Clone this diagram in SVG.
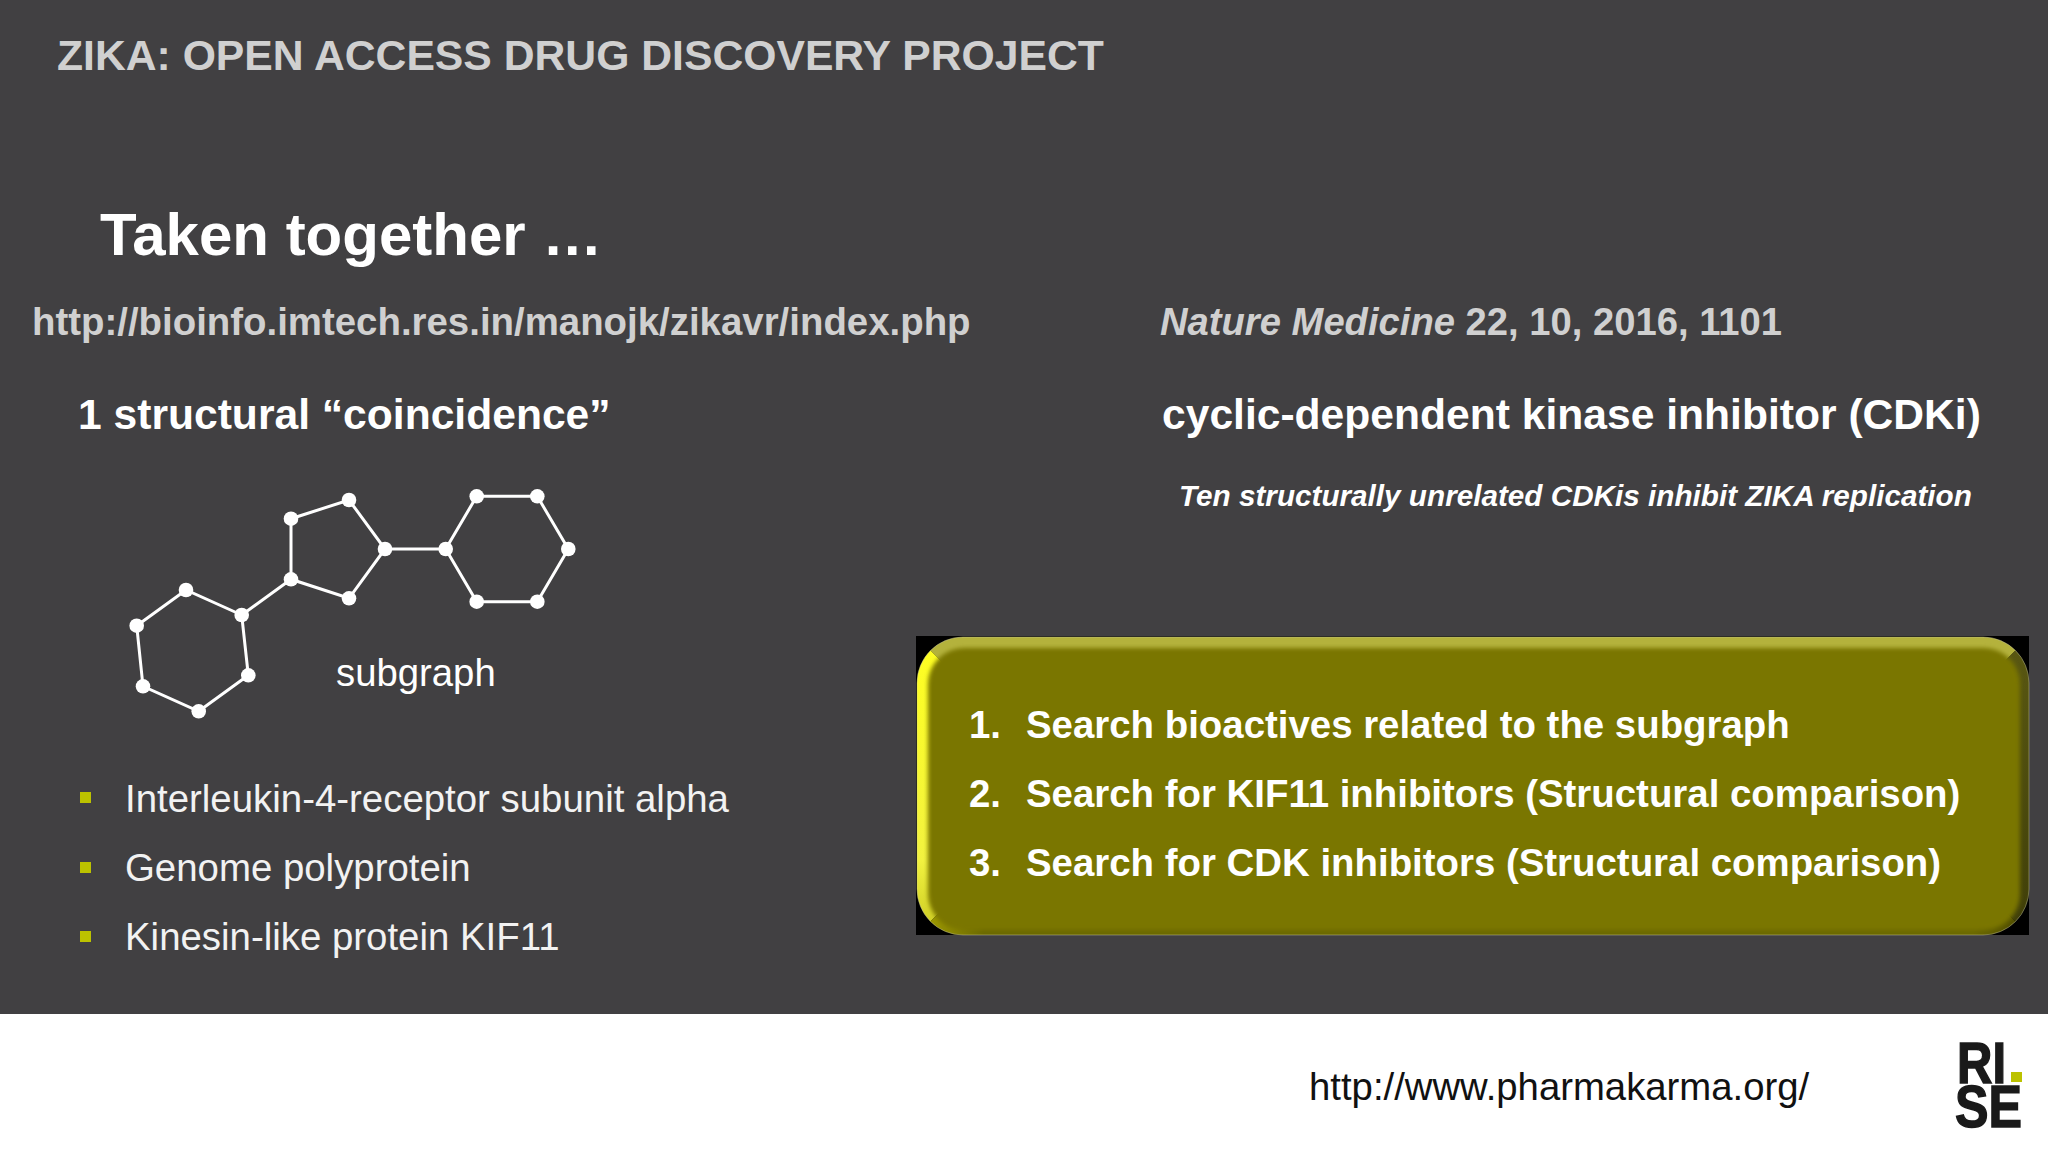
<svg xmlns="http://www.w3.org/2000/svg" width="2048" height="1152" viewBox="0 0 2048 1152">
<defs>
<style>
text{font-family:"Liberation Sans",Arial,sans-serif;fill:#fff}
.b{font-weight:700}
.gray{fill:#d0d0d0;font-weight:700}
.item{font-size:38.4px;fill:#f2f2f2}
.step{font-size:38.4px;font-weight:700}
.bond{stroke:#fff;stroke-width:3;fill:none}
.atom{fill:#fff}
.sq{fill:#bcc200}
</style>
<clipPath id="boxClip"><rect x="917" y="637" width="1112" height="298" rx="46"/></clipPath>
<filter id="soft" x="-5%" y="-5%" width="110%" height="110%"><feGaussianBlur stdDeviation="2.2"/></filter>
<linearGradient id="leftG" gradientUnits="userSpaceOnUse" x1="0" y1="637" x2="0" y2="935"><stop offset="0" stop-color="#ffff20"/><stop offset="0.75" stop-color="#f2f240"/><stop offset="1" stop-color="#c8c820"/></linearGradient>
<linearGradient id="rightG" gradientUnits="userSpaceOnUse" x1="0" y1="637" x2="0" y2="935"><stop offset="0" stop-color="#5a5812"/><stop offset="1" stop-color="#3f3e08"/></linearGradient>
<linearGradient id="botG" gradientUnits="userSpaceOnUse" x1="917" y1="0" x2="2029" y2="0"><stop offset="0" stop-color="#a8a400"/><stop offset="0.06" stop-color="#6c6900"/><stop offset="0.95" stop-color="#6c6900"/><stop offset="1" stop-color="#474500"/></linearGradient>
</defs>
<rect width="2048" height="1152" fill="#414042"/>
<rect y="1014" width="2048" height="138" fill="#fff"/>

<text x="57" y="70" class="gray" font-size="42.7">ZIKA: OPEN ACCESS DRUG DISCOVERY PROJECT</text>
<text x="100" y="255" class="b" font-size="60">Taken together …</text>
<text x="32" y="335" class="gray" font-size="38.4">http://bioinfo.imtech.res.in/manojk/zikavr/index.php</text>
<text x="1160" y="335" class="gray" font-size="38.2"><tspan font-style="italic">Nature Medicine</tspan> 22, 10, 2016, 1101</text>
<text x="78" y="429" class="b" font-size="42.6">1 structural “coincidence”</text>
<text x="1162" y="429" class="b" font-size="42.6">cyclic-dependent kinase inhibitor (CDKi)</text>
<text x="1179" y="506" class="b" font-size="29.7" font-style="italic">Ten structurally unrelated CDKis inhibit ZIKA replication</text>

<g id="molecule">
<g id="bonds">
<path class="bond" d="M241.7 615L186 590L136.7 625.7L143 686.3L198.7 711.3L248.3 675.3Z"/>
<path class="bond" d="M291 579.3L291 518.7L349 500L385 549L349 598.3Z"/>
<path class="bond" d="M445.7 549L476.7 496.3L537.3 496.3L568.3 549L537.3 601.7L476.7 601.7Z"/>
<path class="bond" d="M241.7 615L291 579.3M385 549L445.7 549"/>
</g>
<g id="atoms">
<circle class="atom" cx="241.7" cy="615" r="7.3"/><circle class="atom" cx="186" cy="590" r="7.3"/><circle class="atom" cx="136.7" cy="625.7" r="7.3"/><circle class="atom" cx="143" cy="686.3" r="7.3"/><circle class="atom" cx="198.7" cy="711.3" r="7.3"/><circle class="atom" cx="248.3" cy="675.3" r="7.3"/>
<circle class="atom" cx="291" cy="579.3" r="7.3"/><circle class="atom" cx="291" cy="518.7" r="7.3"/><circle class="atom" cx="349" cy="500" r="7.3"/><circle class="atom" cx="385" cy="549" r="7.3"/><circle class="atom" cx="349" cy="598.3" r="7.3"/>
<circle class="atom" cx="445.7" cy="549" r="7.3"/><circle class="atom" cx="476.7" cy="496.3" r="7.3"/><circle class="atom" cx="537.3" cy="496.3" r="7.3"/><circle class="atom" cx="568.3" cy="549" r="7.3"/><circle class="atom" cx="537.3" cy="601.7" r="7.3"/><circle class="atom" cx="476.7" cy="601.7" r="7.3"/>
</g>
<text id="subgraph" x="336" y="686" font-size="38.3" fill="#f2f2f2">subgraph</text>
</g>

<g id="bullets">
<rect class="sq" x="80" y="792" width="11" height="11"/>
<rect class="sq" x="80" y="862" width="11" height="11"/>
<rect class="sq" x="80" y="931" width="11" height="11"/>
<text class="item" x="125" y="812">Interleukin-4-receptor subunit alpha</text>
<text class="item" x="125" y="881">Genome polyprotein</text>
<text class="item" x="125" y="950">Kinesin-like protein KIF11</text>
</g>

<g id="box">
<rect x="916" y="636" width="1113" height="299" fill="#000"/>
<g clip-path="url(#boxClip)">
<polygon points="917,637 2029,637 1880,786 1066,786" fill="#b4b23c"/>
<polygon points="917,637 1066,786 917,935" fill="url(#leftG)"/>
<polygon points="2029,637 1880,786 2029,935" fill="url(#rightG)"/>
<polygon points="917,935 1066,786 1880,786 2029,935" fill="url(#botG)"/>
<rect x="928" y="648" width="1092" height="282" rx="36" fill="#7a7600" filter="url(#soft)"/>
</g>
<rect x="917" y="637" width="1112" height="298" rx="46" fill="none" stroke="#c8c8a0" stroke-opacity="0.45"/>
<text class="step" x="969" y="738">1.</text><text class="step" x="1026" y="738">Search bioactives related to the subgraph</text>
<text class="step" x="969" y="807">2.</text><text class="step" x="1026" y="807">Search for KIF11 inhibitors (Structural comparison)</text>
<text class="step" x="969" y="876">3.</text><text class="step" x="1026" y="876">Search for CDK inhibitors (Structural comparison)</text>
</g>

<text x="1309" y="1100" font-size="38.3" style="fill:#111">http://www.pharmakarma.org/</text>

<g id="logo">
<text x="1957" y="1083" font-size="58" class="b" style="fill:#1a1a1a;stroke:#1a1a1a;stroke-width:1.5" textLength="49" lengthAdjust="spacingAndGlyphs">RI</text>
<rect x="2011" y="1072" width="11" height="10" fill="#bcc200"/>
<text x="1955" y="1127" font-size="60" class="b" style="fill:#1a1a1a;stroke:#1a1a1a;stroke-width:1.5" textLength="67" lengthAdjust="spacingAndGlyphs">SE</text>
</g>
</svg>
